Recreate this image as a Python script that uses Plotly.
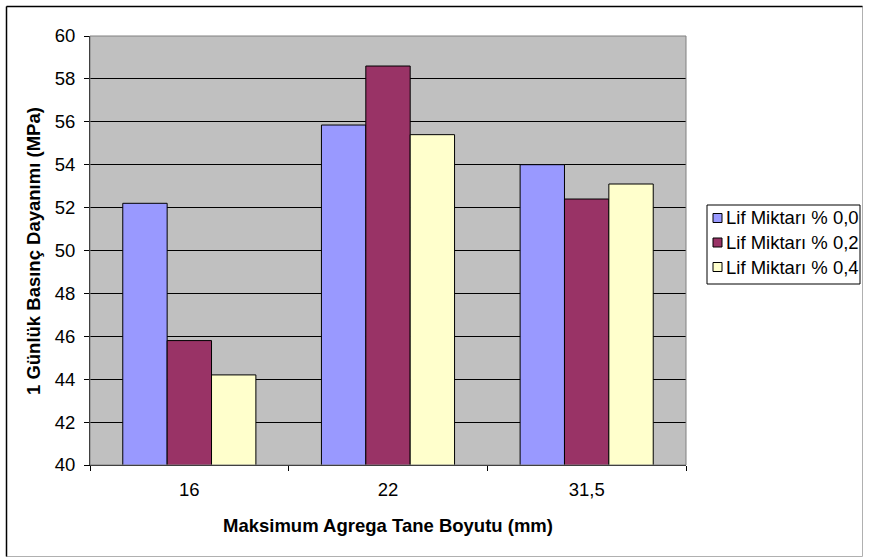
import plotly.graph_objects as go

# Maximum aggregate size categories (mm)
categories = ["16", "22", "31,5"]

# 1-day compressive strength (MPa) per fibre content
series_names = ["Lif Miktarı % 0,0", "Lif Miktarı % 0,2", "Lif Miktarı % 0,4"]
fiber_00 = [52.2, 55.85, 54.0]
fiber_02 = [45.8, 58.6, 52.4]
fiber_04 = [44.2, 55.4, 53.1]

y_ticks = [40, 42, 44, 46, 48, 50, 52, 54, 56, 58, 60]

x_title = "Maksimum Agrega Tane Boyutu (mm)"
y_title = "1 Günlük Basınç Dayanımı (MPa)"

colors = ["#9999FF", "#993366", "#FFFFCC"]
FONT = "Liberation Sans, Arial, sans-serif"
FS = 18.5

W, H = 869, 558
ML, MR, MT, MB = 90, 183, 36, 93
PW, PH = W - ML - MR, H - MT - MB

fig = go.Figure()
for name, vals, col in zip(series_names, [fiber_00, fiber_02, fiber_04], colors):
    fig.add_trace(go.Bar(
        name=name, x=categories, y=vals,
        marker=dict(color=col, line=dict(color="black", width=1)),
        showlegend=False,
    ))


def px_x(p):
    return (p - ML) / PW


def px_y(p):
    return (H - MB - p) / PH


shapes = [
    # plot-area frame
    dict(type="rect", xref="paper", yref="paper", x0=0, x1=1, y0=0, y1=1,
         line=dict(color="#808080", width=1), layer="above"),
    # chart outer frame
    dict(type="rect", xref="paper", yref="paper",
         x0=px_x(6.5), x1=px_x(862.5), y0=px_y(6.5), y1=px_y(556.5),
         line=dict(color="#B0B0B0", width=1)),
    dict(type="line", xref="paper", yref="paper",
         x0=px_x(6.5), x1=px_x(862.5), y0=px_y(6.5), y1=px_y(6.5),
         line=dict(color="black", width=1.5)),
    dict(type="line", xref="paper", yref="paper",
         x0=px_x(6.5), x1=px_x(6.5), y0=px_y(6.5), y1=px_y(556.5),
         line=dict(color="black", width=1.5)),
    # legend box
    dict(type="rect", xref="paper", yref="paper",
         x0=px_x(707), x1=px_x(860), y0=px_y(205), y1=px_y(284),
         line=dict(color="black", width=1), fillcolor="white"),
]

annotations = [
    dict(text="<b>%s</b>" % x_title, xref="paper", yref="paper",
         x=0.5, y=px_y(525), xanchor="center", yanchor="middle",
         showarrow=False, font=dict(size=FS)),
    dict(text="<b>%s</b>" % y_title, xref="paper", yref="paper",
         x=px_x(33), y=px_y(251), xanchor="center", yanchor="middle",
         textangle=-90, showarrow=False, font=dict(size=FS)),
]

# legend entries: swatch + label
entry_y = [218, 242.5, 267]
for name, col, ey in zip(series_names, colors, entry_y):
    shapes.append(dict(type="rect", xref="paper", yref="paper",
                       x0=px_x(713), x1=px_x(722), y0=px_y(ey - 4.5), y1=px_y(ey + 4.5),
                       line=dict(color="black", width=1), fillcolor=col))
    annotations.append(dict(text=name, xref="paper", yref="paper",
                            x=px_x(723.5), y=px_y(ey), xanchor="left", yanchor="middle",
                            showarrow=False, font=dict(size=FS)))

fig.update_layout(
    width=W, height=H,
    margin=dict(l=ML, r=MR, t=MT, b=MB, pad=0),
    paper_bgcolor="white",
    plot_bgcolor="#C0C0C0",
    barmode="group",
    bargap=0.33,
    bargroupgap=0,
    font=dict(family=FONT, size=FS, color="black"),
    showlegend=False,
    shapes=shapes,
    annotations=annotations,
    xaxis=dict(
        type="category",
        showgrid=False, showline=True, linecolor="black", linewidth=1,
        ticks="outside", ticklen=5, tickcolor="black", tickson="boundaries",
        tickfont=dict(size=FS), ticklabelstandoff=8,
    ),
    yaxis=dict(
        range=[40, 60], tickvals=y_ticks,
        showgrid=True, gridcolor="black", gridwidth=1,
        showline=True, linecolor="black", linewidth=1,
        ticks="outside", ticklen=5, tickcolor="black",
        tickfont=dict(size=FS), zeroline=False, ticklabelstandoff=5,
    ),
)

fig.write_html("out.html")
